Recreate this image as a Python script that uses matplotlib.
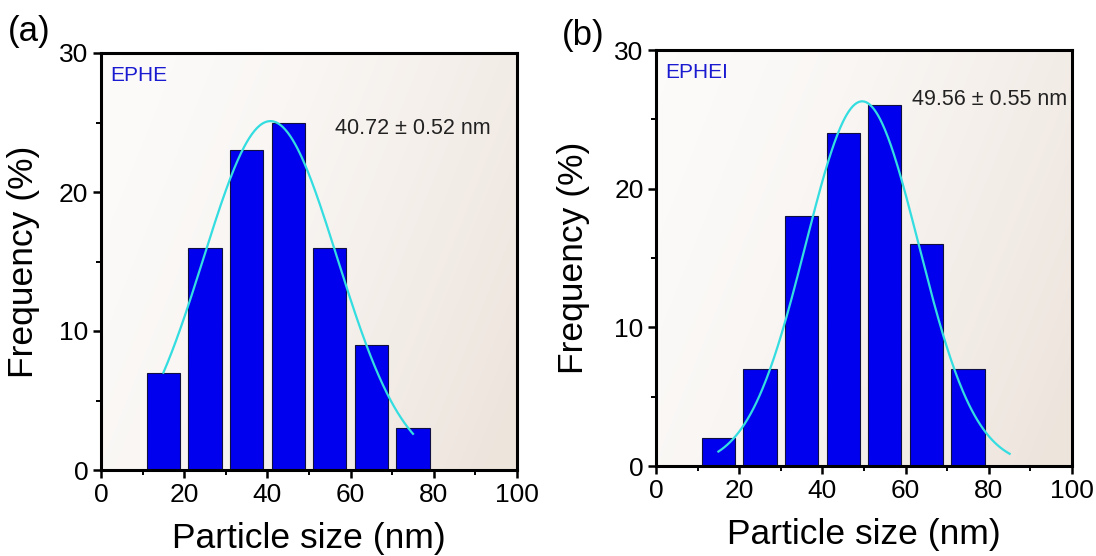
import numpy as np
import matplotlib
matplotlib.use("Agg")
import matplotlib.pyplot as plt
from matplotlib.ticker import MultipleLocator

plt.rcParams['font.family'] = ['Liberation Sans', 'DejaVu Sans']

# Bin centres (nm) and frequencies (%)
bin_centers = [15, 25, 35, 45, 55, 65, 75]
freq_ephe = [7, 16, 23, 25, 16, 9, 3]
freq_ephei = [2, 7, 18, 24, 26, 16, 7]

# Gaussian fit parameters (amplitude, centre, sigma, x range)
fit_ephe = (25.1, 40.72, 16.1, 15, 75)
fit_ephei = (26.3, 49.56, 13.6, 15, 85)

panels = [
    ("(a)", "EPHE", freq_ephe, fit_ephe, "40.72 \u00b1 0.52 nm", (56.2, 24.6)),
    ("(b)", "EPHEI", freq_ephei, fit_ephei, "49.56 \u00b1 0.55 nm", (61.5, 26.4)),
]

fig = plt.figure(figsize=(10.96, 5.56), dpi=100)
W, H = 1096, 556
boxes = [(101, 53, 517, 470), (656, 50, 1072, 466)]
panel_xy = [(8, 32), (562, 35)]
ylabel_x = [40, 590]

# background gradient: whitish top-left, beige towards bottom-right
gx = np.linspace(0, 1, 200)
gy = np.linspace(0, 1, 200)
GX, GY = np.meshgrid(gx, gy)
t = np.clip(0.75 * GX + 0.3 * (1 - GY), 0, 1) ** 1.5
c0 = np.array([0.99, 0.985, 0.98])
c1 = np.array([0.93, 0.895, 0.865])
grad = c0 + (c1 - c0) * t[..., None]

for i, (tag, name, freq, fit, note, note_xy) in enumerate(panels):
    l, t_, r, b = boxes[i]
    ax = fig.add_axes([l / W, 1 - b / H, (r - l) / W, (b - t_) / H])
    ax.imshow(grad, extent=[0, 100, 0, 30], origin='lower', aspect='auto', zorder=0)

    ax.bar(bin_centers, freq, width=8, color='#0000ee', edgecolor='#101040',
           linewidth=0.8, zorder=2)

    amp, mu, sig, x0, x1 = fit
    xs = np.linspace(x0, x1, 300)
    ax.plot(xs, amp * np.exp(-(xs - mu) ** 2 / (2 * sig ** 2)),
            color='#33dde0', lw=1.6, zorder=3)

    ax.set_xlim(0, 100)
    ax.set_ylim(0, 30)
    ax.xaxis.set_major_locator(MultipleLocator(20))
    ax.xaxis.set_minor_locator(MultipleLocator(10))
    ax.yaxis.set_major_locator(MultipleLocator(10))
    ax.yaxis.set_minor_locator(MultipleLocator(5))
    ax.tick_params(which='major', direction='out', length=6, width=1.8,
                   labelsize=19, pad=3)
    ax.tick_params(which='minor', direction='out', length=3.5, width=1.4)
    for sp in ax.spines.values():
        sp.set_linewidth(2.2)

    ax.set_xlabel("Particle size (nm)", fontsize=25.5, labelpad=11)
    ax.set_ylabel("Frequency (%)", fontsize=25.5)
    ax.yaxis.set_label_coords((ylabel_x[i] - l) / (r - l), 0.5)

    ax.text(0.022, 0.945, name, transform=ax.transAxes, color='#1a1ad0',
            fontsize=15, va='center', ha='left')
    ax.text(note_xy[0], note_xy[1], note, fontsize=15.5, va='center',
            ha='left', color='#222222')

    fig.text(panel_xy[i][0] / W, 1 - panel_xy[i][1] / H, tag, fontsize=25,
             va='center', ha='left')

fig.savefig("out.png", dpi=100)
